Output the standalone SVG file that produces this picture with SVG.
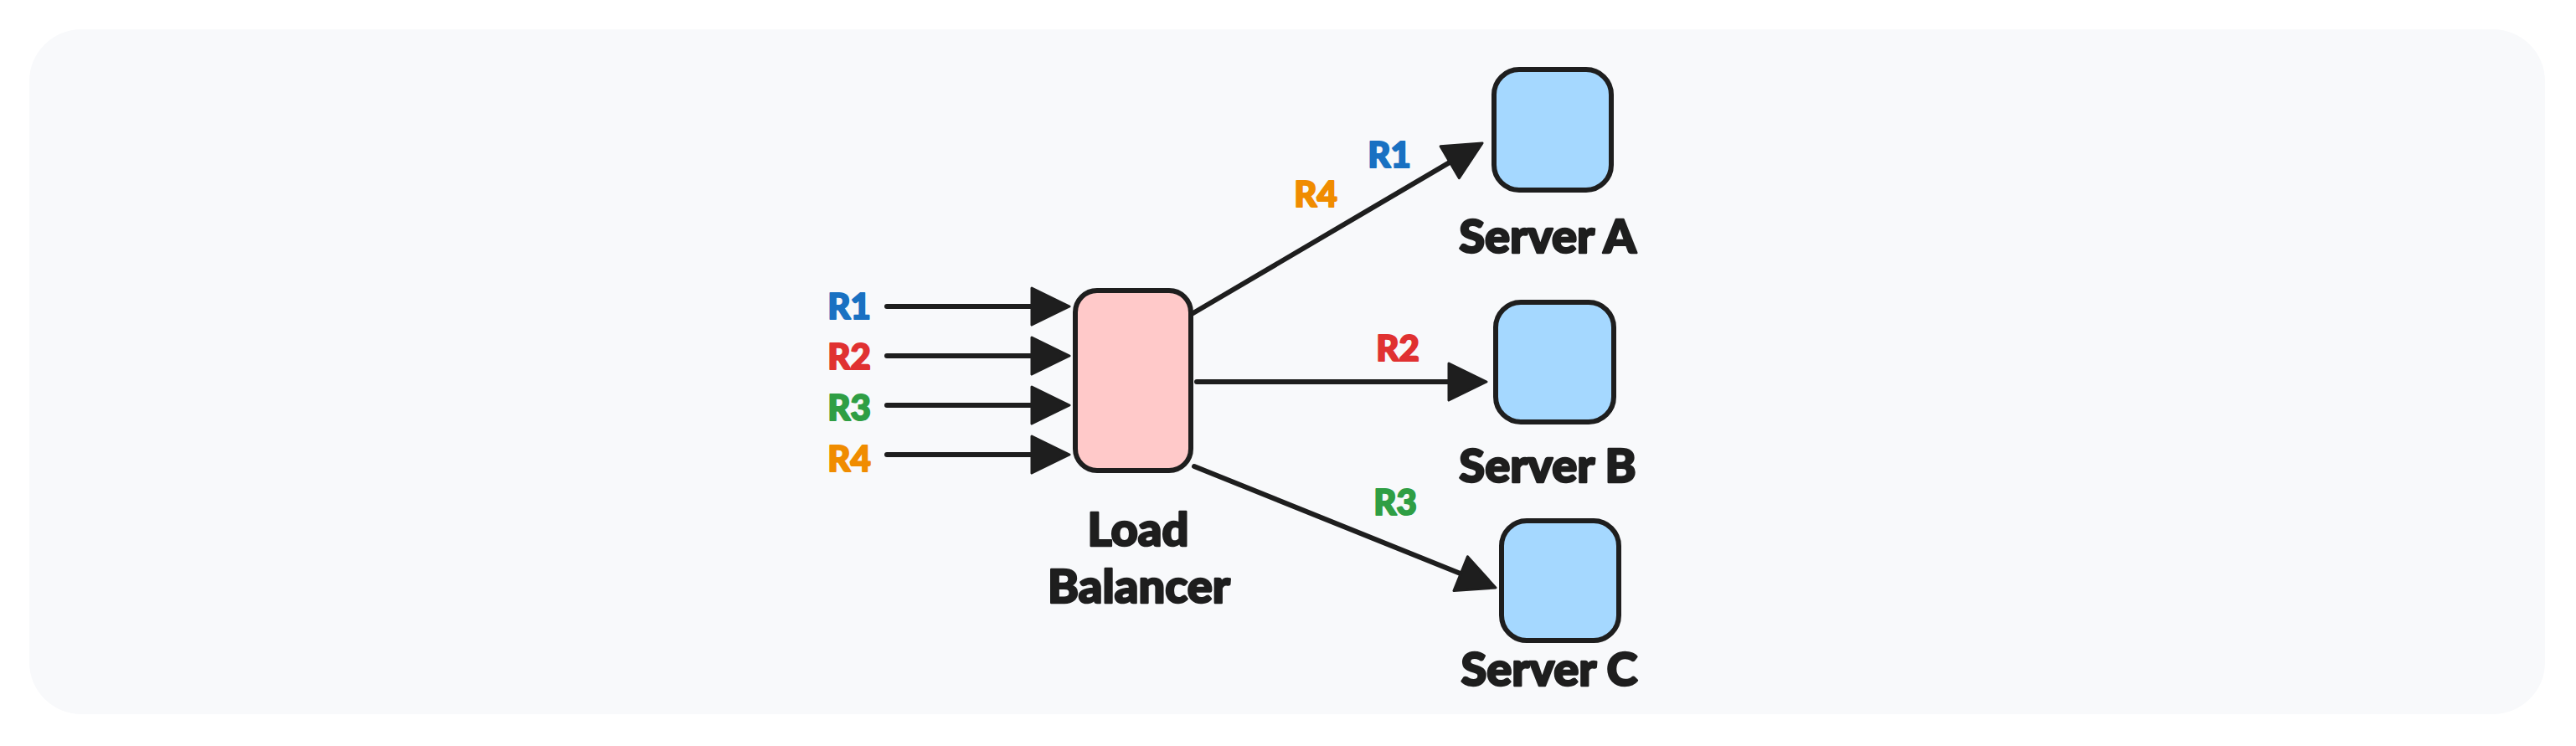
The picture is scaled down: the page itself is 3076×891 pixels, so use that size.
<svg xmlns="http://www.w3.org/2000/svg" width="3076" height="891" viewBox="0 0 3076 891">
<style>
.node{stroke:#1e1e1e;stroke-width:6}
.lb{fill:#ffc9c9}
.srv{fill:#a5d8ff}
.edge{stroke:#1e1e1e;stroke-width:6;stroke-linecap:round;fill:none}
.lbl{font-family:Lato,"Noto Sans",sans-serif;font-weight:900;text-anchor:middle;fill:#1e1e1e;stroke:#1e1e1e;stroke-width:2.5;stroke-linejoin:round;font-size:56px}
.req{font-family:Lato,"Noto Sans",sans-serif;font-weight:900;text-anchor:middle;stroke-width:2;stroke-linejoin:round;font-size:42px}
.r1{fill:#1971c2;stroke:#1971c2}.r2{fill:#e03131;stroke:#e03131}.r3{fill:#2f9e44;stroke:#2f9e44}.r4{fill:#f08c00;stroke:#f08c00}
</style>
<defs>
<marker id="ah" markerUnits="userSpaceOnUse" markerWidth="50" markerHeight="50" refX="25" refY="22" orient="auto" overflow="visible">
<path d="M0,0 L45,22 L0,44 Z" fill="#1e1e1e" stroke="#1e1e1e" stroke-width="3" stroke-linejoin="round"/>
</marker>
</defs>
<rect width="3076" height="891" fill="#ffffff"/>
<rect x="35" y="35" width="3004" height="818" rx="62" fill="#f8f9fb"/>
<g id="connectors">
<line class="edge" x1="1059" y1="366" x2="1257" y2="366" marker-end="url(#ah)"/>
<line class="edge" x1="1059" y1="425" x2="1257" y2="425" marker-end="url(#ah)"/>
<line class="edge" x1="1059" y1="484" x2="1257" y2="484" marker-end="url(#ah)"/>
<line class="edge" x1="1059" y1="543" x2="1257" y2="543" marker-end="url(#ah)"/>
<line class="edge" x1="1423" y1="375" x2="1752.8" y2="181.1" marker-end="url(#ah)"/>
<line class="edge" x1="1429" y1="456" x2="1755" y2="456" marker-end="url(#ah)"/>
<line class="edge" x1="1426" y1="557" x2="1767.4" y2="694.5" marker-end="url(#ah)"/>
<text class="req r1" x="1014" y="381">R1</text>
<text class="req r2" x="1014" y="441">R2</text>
<text class="req r3" x="1014" y="502">R3</text>
<text class="req r4" x="1014" y="563">R4</text>
<text class="req r1" x="1659" y="200">R1</text>
<text class="req r4" x="1571" y="247">R4</text>
<text class="req r2" x="1669" y="431">R2</text>
<text class="req r3" x="1666" y="615">R3</text>
</g>
<g id="load-balancer">
<rect class="node lb" x="1284" y="347" width="138" height="215" rx="26"/>
<text class="lbl" x="1359" y="652">Load</text>
<text class="lbl" x="1360" y="720">Balancer</text>
</g>
<g id="server-a">
<rect class="node srv" x="1784" y="83" width="140" height="144" rx="30"/>
<text class="lbl" x="1848" y="302">Server A</text>
</g>
<g id="server-b">
<rect class="node srv" x="1786" y="361" width="141" height="143" rx="30"/>
<text class="lbl" x="1848" y="576">Server B</text>
</g>
<g id="server-c">
<rect class="node srv" x="1793" y="622" width="140" height="143" rx="30"/>
<text class="lbl" x="1850" y="819">Server C</text>
</g>
</svg>
